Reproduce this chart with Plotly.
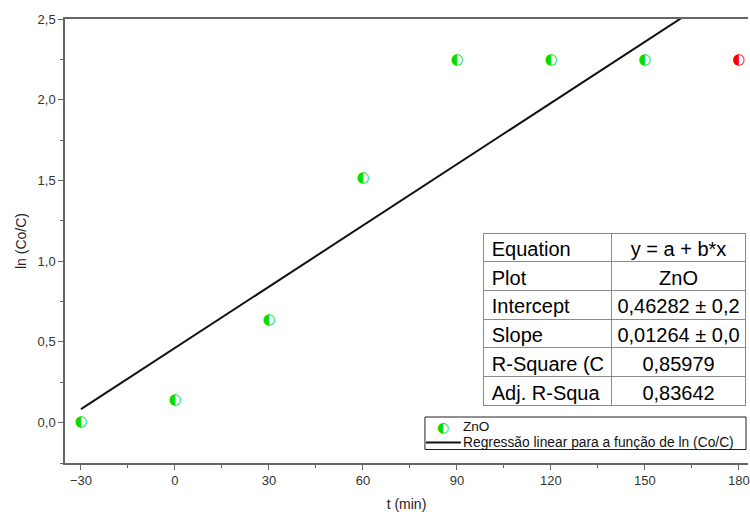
import plotly.graph_objects as go

# Kinetic data: time (min) vs ln(Co/C) for ZnO
t_min = [-30, 0, 30, 60, 90, 120, 150, 180]
ln_co_c = [0.0, 0.136, 0.637, 1.516, 2.246, 2.246, 2.246, 2.246]
point_colors = ["#00e000"] * 7 + ["#ff0000"]

# Linear fit y = a + b*x
intercept = 0.46282
slope = 0.01264
fit_x = [-30, 180]

# Fit statistics table
stat_names = ["Plot", "Intercept", "Slope", "R-Square (C", "Adj. R-Squa"]
stat_values = ["ZnO", "0,46282 ± 0,2", "0,01264 ± 0,0", "0,85979", "0,83642"]
table_header = ["Equation", "y = a + b*x"]

x_ticks = [-30, 0, 30, 60, 90, 120, 150, 180]
y_ticks = [0.0, 0.5, 1.0, 1.5, 2.0, 2.5]

FONT = "Liberation Sans, Arial"
MARKER_GLYPH = "◐"
GREEN = "#00e000"

# Plot-area geometry in pixels (used to place the legend box and table)
L, R, T, B = 65, 750, 19, 463


def px_x(p):
    return (p - L) / (R - L)


def px_y(p):
    return (B - p) / (B - T)


def nowrap(items):
    # keep each table cell on one line
    return [s.replace(" ", "\u00a0") for s in items]


fig = go.Figure()

# Regression line
fig.add_trace(go.Scatter(
    x=fit_x, y=[intercept + slope * v for v in fit_x],
    mode="lines", line=dict(color="#111111", width=2),
    name="Regressão linear para a função de ln (Co/C)",
    showlegend=False,
))

# Half-filled circle markers drawn as glyphs
fig.add_trace(go.Scatter(
    x=t_min, y=ln_co_c, mode="text", text=[MARKER_GLYPH] * len(t_min),
    textfont=dict(family="DejaVu Sans", size=15, color=point_colors),
    textposition="middle center", showlegend=False, cliponaxis=False,
    name="ZnO",
))

# Fit statistics table
fig.add_trace(go.Table(
    domain=dict(x=[px_x(485), px_x(748)], y=[px_y(406), px_y(233)]),
    columnwidth=[128, 135],
    header=dict(values=nowrap(table_header), height=28.7,
                align=["left", "center"], fill_color="white",
                line=dict(color="#8a8a8a", width=1),
                font=dict(family=FONT, size=20, color="black")),
    cells=dict(values=[nowrap(stat_names), nowrap(stat_values)], height=28.7,
               align=["left", "center"], fill_color="white",
               line=dict(color="#8a8a8a", width=1),
               font=dict(family=FONT, size=20, color="black")),
))

axis_common = dict(
    showline=True, linecolor="#666666", linewidth=1.5,
    ticks="outside", ticklen=5, tickwidth=1, tickcolor="#666666",
    showgrid=False, zeroline=False,
    tickfont=dict(family=FONT, size=13, color="#333333"),
)

fig.update_xaxes(
    range=[-35.1, 182.9], tickvals=x_ticks, mirror=True,
    ticklabeloverflow="allow",
    minor=dict(ticks="outside", ticklen=3, dtick=15, tickcolor="#666666"),
    title=dict(text="t (min)", font=dict(family=FONT, size=14, color="#222222"), standoff=12),
    **axis_common,
)
fig.update_yaxes(
    range=[-0.25, 2.5], tickvals=y_ticks, tickformat=".1f",
    minor=dict(ticks="outside", ticklen=3, dtick=0.25, tickcolor="#666666"),
    title=dict(text="ln (Co/C)", font=dict(family=FONT, size=14, color="#222222"), standoff=8),
    **axis_common,
)

# Legend box
fig.add_shape(type="rect", xref="paper", yref="paper",
              x0=px_x(426), x1=px_x(748), y0=px_y(449.5), y1=px_y(417),
              line=dict(color="#222222", width=1), fillcolor="white", layer="above")
fig.add_shape(type="line", xref="paper", yref="paper",
              x0=px_x(427), x1=px_x(462), y0=px_y(442.5), y1=px_y(442.5),
              line=dict(color="#111111", width=2), layer="above")
fig.add_annotation(xref="paper", yref="paper", x=px_x(444), y=px_y(427),
                   text=MARKER_GLYPH, showarrow=False, xanchor="center", yanchor="middle",
                   font=dict(family="DejaVu Sans", size=14, color=GREEN), borderpad=0)
fig.add_annotation(xref="paper", yref="paper", x=px_x(463), y=px_y(426.5),
                   text="ZnO", showarrow=False, xanchor="left", yanchor="middle",
                   font=dict(family=FONT, size=13.6, color="#111111"), borderpad=0)
fig.add_annotation(xref="paper", yref="paper", x=px_x(463), y=px_y(442.5),
                   text="Regressão linear para a função de ln (Co/C)", showarrow=False,
                   xanchor="left", yanchor="middle",
                   font=dict(family=FONT, size=13.8, color="#111111"), borderpad=0)

fig.update_layout(
    width=750, height=515,
    margin=dict(l=L, r=750 - R, t=T, b=515 - B),
    paper_bgcolor="white", plot_bgcolor="white",
    separators=",.",
    showlegend=False,
)

fig.write_html("out.html")
